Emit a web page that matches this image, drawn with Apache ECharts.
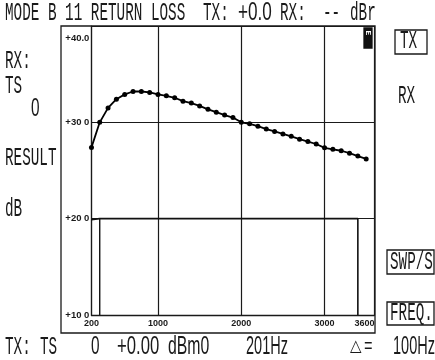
<!DOCTYPE html>
<html><head><meta charset="utf-8">
<style>html,body{margin:0;padding:0;background:#fff}#c{width:435px;height:360px}</style>
<script src="https://cdn.jsdelivr.net/npm/echarts@6/dist/echarts.min.js"></script>
</head><body><div id="c"></div>
<script>
const freqs = [201,300,400,500,600,700,800,900,1000,1100,1200,1300,1400,1500,1600,1700,1800,1900,2000,2100,2200,2300,2400,2500,2600,2700,2800,2900,3000,3100,3200,3300,3400,3500];
const levels = [27.4,30.0,31.5,32.4,32.9,33.2,33.2,33.1,32.9,32.75,32.55,32.2,32.0,31.7,31.35,31.05,30.75,30.5,30.0,29.85,29.6,29.3,29.05,28.8,28.55,28.25,28.0,27.75,27.35,27.2,27.05,26.8,26.5,26.2];
const maskTopFreq = [200,300,3400,3400];
const maskTopVal = [19.9,20,20,10];
const maskLeftFreq = [300,300];
const maskLeftVal = [20,10];
const xTicks = [200,1000,2000,3000,3600];
const yTicks = [10,20,30,40];
const yTickLabels = ['+10 0','+20 0','+30 0','+40.0'];
const INK = '#1a1a1a';
const zip = (a,b) => a.map((v,i)=>[v,b[i]]);

// text, left x, centre y, optional sans x-scale (for digit strings: plain, undotted zeros)
const texts = [
 ['MODE B 11 RETURN LOSS',5,13],['TX:',203,13],['+0.0',238,13,0.78],['RX:',280,13],['--',323,13],['dBr',350,13],
 ['RX:',5,61],['TS',5,86],['0',31,109,0.7],['RESULT',5,158],['dB',5,209],
 ['TX',400,41],['RX',398,96],['SWP/S',390,262],['FREQ.',390,313],
 ['TX:',5,347],['TS',40,347],['0',91,347,0.7],['+0.00',117,347,0.76],['dBm0',168,347,0.72],['201Hz',246,347,0.66],['100Hz',393,347,0.66]
];
const graphic = texts.map(([t,x,y,sx])=>({type:'text',x,y,scaleX:sx||0.65,scaleY:1.2,z:10,
  style:{text:t,x:0,y:0,fill:INK,font:sx?'22px "Liberation Sans"':'22px "Liberation Mono"',textAlign:'left',textVerticalAlign:'middle'}}));
const box=(x,y,w,h,extra)=>({type:'rect',shape:{x,y,width:w,height:h},z:9,
  style:Object.assign({fill:'none',stroke:INK,lineWidth:1.3},extra||{})});
graphic.push(box(61,26,314,307));
graphic.push(box(395,30,32,24));
graphic.push(box(387,250,47,24));
graphic.push(box(387,302,47,23));
graphic.push(box(364,28,8,20,{fill:'#111',stroke:'#111'}));
graphic.push({type:'text',x:368,y:33,rotation:-Math.PI/2,z:11,
  style:{text:'E',x:0,y:0,fill:'#fff',font:'bold 8px "Liberation Mono"',textAlign:'center',textVerticalAlign:'middle'}});
graphic.push({type:'text',x:350,y:347,scaleY:1.1,z:10,style:{text:'\u25B3',x:0,y:0,fill:INK,font:'15px "DejaVu Sans"',textAlign:'left',textVerticalAlign:'middle'}});
graphic.push({type:'text',x:364,y:347,scaleX:0.65,z:10,style:{text:'=',x:0,y:0,fill:INK,font:'22px "Liberation Mono"',textAlign:'left',textVerticalAlign:'middle'}});

const chart = echarts.init(document.getElementById('c'),null,{renderer:'canvas'});
chart.setOption({
  animation:false,backgroundColor:'#fff',
  grid:{left:91.4,right:60.5,top:26,bottom:45,containLabel:false},
  xAxis:{type:'value',min:200,max:3600,
    axisLine:{show:true,lineStyle:{color:INK,width:1.3}},
    axisTick:{show:false,customValues:xTicks},
    axisLabel:{customValues:xTicks,margin:4,color:INK,fontFamily:'Liberation Sans',fontWeight:'bold',fontSize:9,alignMaxLabel:'right',
      formatter:v=>String(v)},
    splitLine:{show:true,lineStyle:{color:INK,width:1.2,type:'solid'}}},
  yAxis:{type:'value',min:10,max:40,interval:10,
    axisLine:{show:true,onZero:false,lineStyle:{color:INK,width:1.2}},
    axisTick:{show:false},
    axisLabel:{margin:2,color:INK,fontFamily:'Liberation Sans',fontWeight:'bold',fontSize:9.5,verticalAlignMaxLabel:'top',lineHeight:24,
      formatter:v=>yTickLabels[yTicks.indexOf(v)]},
    splitLine:{show:true,lineStyle:{color:INK,width:1.2,type:'solid'}}},
  series:[
    {type:'line',data:zip(maskTopFreq,maskTopVal),symbol:'none',lineStyle:{color:'#111',width:1.6},silent:true},
    {type:'line',data:zip(maskLeftFreq,maskLeftVal),symbol:'none',lineStyle:{color:'#111',width:1.4},silent:true},
    {type:'line',data:zip(freqs,levels),symbol:'circle',symbolSize:5,itemStyle:{color:'#000'},lineStyle:{color:'#000',width:1.8},silent:true}
  ],
  graphic:{elements:graphic}
});
</script></body></html>
